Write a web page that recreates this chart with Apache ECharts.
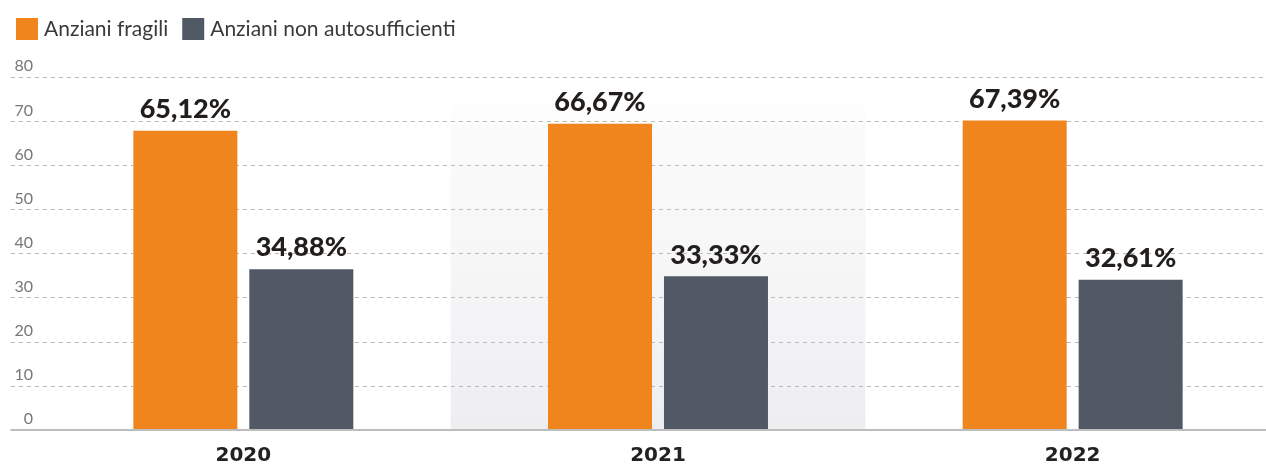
<!DOCTYPE html>
<html>
<head>
<meta charset="utf-8">
<script src="https://cdn.jsdelivr.net/npm/echarts@6/dist/echarts.min.js"></script>
<style>
  html, body { margin: 0; padding: 0; background: #fff; overflow: hidden; }
  /* il grafico originale prosegue oltre il bordo destro */
  #chart { width: 1280px; height: 466px; }
</style>
</head>
<body>
<div id="chart"></div>
<script>
// dati
var years = ['2020', '2021', '2022']
var fragili = [65.12, 66.67, 67.39]
var nonAuto = [34.88, 33.33, 32.61]
var seriesNames = ['Anziani fragili', 'Anziani non autosufficienti']
var tickLabels = ['0', '10', '20', '30', '40', '50', '60', '70', '80']

var colors = ['#f0851d', '#515965']
// la griglia disegnata è più alta dei valori: 80 sull'asse = 76.8 %
var yMax = 76.8
var yInterval = yMax / 8

function fmtPct(p) {
  return p.value.toFixed(2).replace('.', ',') + '%'
}

(function(){
  var myChart = echarts.init(document.getElementById('chart'))
  var font = 'Lato, "DejaVu Sans", sans-serif'
  var option = {
    animation: false,
    color: colors,
    legend: {
      left: 11,
      top: 13,
      itemWidth: 22,
      itemHeight: 22,
      itemGap: 14,
      icon: 'rect',
      data: seriesNames,
      textStyle: {
        fontFamily: font,
        fontSize: 21,
        color: '#3a3a3a',
        padding: [0, 0, 0, 1]
      }
    },
    grid: [
      { left: 11, right: 14, top: 77.3, bottom: 36 },
      { left: 36, right: 0, top: 77.3, bottom: 36 }
    ],
    xAxis: [{
      gridIndex: 0,
      type: 'value',
      min: 0,
      max: 1,
      axisLine: { show: true, lineStyle: { color: '#a9a9a9', width: 1.5 } },
      axisTick: { show: false },
      axisLabel: { show: false },
      splitLine: { show: false }
    }, {
      gridIndex: 1,
      type: 'category',
      data: years,
      axisLine: { show: false },
      axisTick: { show: false },
      axisLabel: {
        margin: 17,
        fontFamily: '"DejaVu Sans", sans-serif',
        fontSize: 20,
        fontWeight: 'bold',
        color: '#222'
      },
      splitArea: {
        show: true,
        areaStyle: {
          color: [
            'rgba(255,255,255,0)',
            new echarts.graphic.LinearGradient(0, 0, 0, 1, [
              { offset: 0, color: 'rgba(255,255,255,0)' },
              { offset: 0.15, color: 'rgba(248,248,249,0.6)' },
              { offset: 1, color: '#eeeef1' }
            ]),
            'rgba(255,255,255,0)'
          ]
        }
      }
    }],
    yAxis: [{
      gridIndex: 0,
      type: 'value',
      z: 1,
      min: 0,
      max: yMax,
      interval: yInterval,
      axisLine: { show: false },
      axisTick: { show: false },
      axisLabel: {
        inside: true,
        align: 'right',
        verticalAlign: 'bottom',
        margin: 22,
        padding: [0, 0, 3, 0],
        fontFamily: font,
        fontSize: 16,
        color: '#777',
        formatter: function(v, i) {
          return tickLabels[i]
        }
      },
      splitLine: {
        lineStyle: { color: '#bbbbbb', type: [4, 4], width: 1 }
      }
    }, {
      gridIndex: 1,
      type: 'value',
      min: 0,
      max: yMax,
      interval: yInterval,
      show: false,
      splitLine: { show: false }
    }],
    series: [{
      name: seriesNames[0],
      type: 'bar',
      xAxisIndex: 1,
      yAxisIndex: 1,
      data: fragili,
      barWidth: 104,
      barGap: '11.5%',
      label: {
        show: true,
        position: 'top',
        distance: 8,
        fontFamily: font,
        fontSize: 27,
        fontWeight: 900,
        color: '#221e1b',
        formatter: fmtPct
      }
    }, {
      name: seriesNames[1],
      type: 'bar',
      xAxisIndex: 1,
      yAxisIndex: 1,
      data: nonAuto,
      barWidth: 104,
      label: {
        show: true,
        position: 'top',
        distance: 8,
        fontFamily: font,
        fontSize: 27,
        fontWeight: 900,
        color: '#221e1b',
        formatter: fmtPct
      }
    }]
  }
  myChart.setOption(option)
})();
</script>
</body>
</html>
